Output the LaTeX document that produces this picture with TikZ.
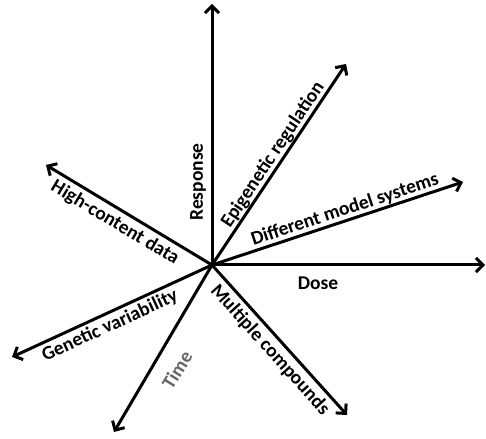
\documentclass[tikz,border=0pt]{standalone}
\usepackage{fontspec}
\setmainfont{Carlito}
\usetikzlibrary{arrows.meta}
\tikzset{
	axis/.style={line width=3pt, -{Straight Barb[length=7pt,width=14pt]}}
}
\tikzset{
	axislabel/.style={font=\fontsize{19.5}{21}\selectfont\bfseries, inner sep=0pt}
}

\begin{document}
\begin{tikzpicture}[x=1pt,y=1pt]
      \useasboundingbox (-212,-173) rectangle (274,265);
      \coordinate (o) at (0,0);
      \foreach \n/\x/\y in {resp/0/261, epi/134/201, models/251/83, dose/273/0,
        comp/135/-150, time/-98/-167, genvar/-200/-92, hcd/-166/100}
        \coordinate (\n) at (\x,\y);
      \foreach \n in {resp, epi, models, dose, comp, time, genvar, hcd}
        \draw[axis] (o) -- (\n);
      % labels along the axes
      \node[axislabel, rotate=90] (response) at (-14,83) {Response};
      \node[axislabel, rotate=56.3] (epigenetic) at (61,110) {Epigenetic regulation};
      \node[axislabel, rotate=18.3] (modelsys) at (133,55) {Different model systems};
      \node[axislabel] (doselabel) at (106,-18) {Dose};
      \node[axislabel, rotate=-48] (compounds) at (58,-85) {Multiple compounds};
      \node[axislabel, rotate=24.7] (genetic) at (-102,-61) {Genetic variability};
      \node[axislabel, rotate=-31] (highcontent) at (-97,42) {High-content data};
      % grey time label
      \node[axislabel, text=black!60, rotate=58] (timelabel) at (-35,-105) {Time};
\end{tikzpicture}
\end{document}
